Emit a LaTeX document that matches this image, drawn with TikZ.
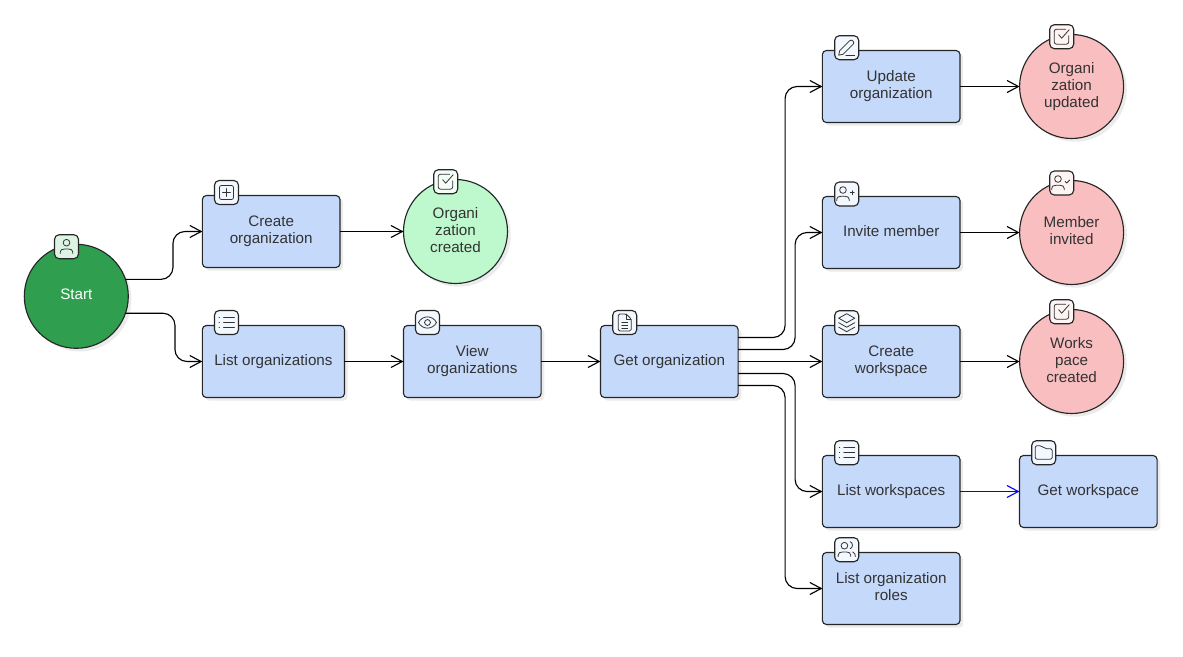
\documentclass[tikz,border=0pt]{standalone}
\usepackage{fontspec}
\setmainfont{Liberation Sans}
\usetikzlibrary{arrows.meta,shadows,calc}

\definecolor{taskblue}{HTML}{C5D9FB}
\definecolor{donered}{HTML}{F9BEC0}
\definecolor{donegreen}{HTML}{BEF8CD}
\definecolor{startgreen}{HTML}{309E4F}
\definecolor{inkgray}{HTML}{333333}
\definecolor{iconblue}{HTML}{F3F7FE}
\definecolor{iconred}{HTML}{FEF4F4}
\definecolor{icongreen}{HTML}{F4FEF7}
\definecolor{iconstart}{HTML}{DDF3E3}

\tikzset{
	softshadow/.style={drop shadow={shadow xshift=2.4pt, shadow yshift=-2.4pt, fill=black, opacity=0.08}},
	taskbox/.style={draw=black!85, line width=0.85pt, fill=taskblue, rounded corners=3pt, inner sep=0pt, outer sep=0pt, minimum width=103.2pt, minimum height=54pt, align=center, text=inkgray, text depth=2.5pt, font=\fontsize{11.4}{12.75}\selectfont, softshadow},
	endcircle/.style={circle, draw=black!85, line width=0.85pt, inner sep=0pt, outer sep=0pt, minimum size=78pt, align=center, text=inkgray, text depth=2.5pt, font=\fontsize{11.4}{12.75}\selectfont, softshadow},
	iconbox/.style={draw=black!85, line width=0.85pt, rounded corners=3.5pt, inner sep=0pt, minimum size=18pt},
	flow/.style={color=black, line width=0.85pt, rounded corners=9pt, -{Straight Barb[length=8.5pt, width=9pt, line width=0.85pt]}},
	blueflow/.style={flow, color=blue, line width=1pt},
	iconline/.style={draw=inkgray, line width=0.6pt, line cap=round, line join=round},
	pics/plussquare/.style={code={
		\draw[iconline, rounded corners=1.5pt] (-7,-7) rectangle (7,7);
		\draw[iconline] (-4,0) -- (4,0) (0,-4) -- (0,4);
	}},
	pics/checksquare/.style={code={
		\draw[iconline, rounded corners=1.8pt] (7,-1) -- (7,7.5) -- (-7.5,7.5) -- (-7.5,-7.5) -- (4,-7.5);
		\draw[iconline] (-3,-2) -- (0,1.5) -- (7.5,-7);
	}},
	pics/listlines/.style={code={
		\draw[iconline] (-3,-5) -- (8,-5) (-3,0) -- (8,0) (-3,5) -- (8,5);
		\draw[iconline] (-7.5,-5) -- (-7,-5) (-7.5,0) -- (-7,0) (-7.5,5) -- (-7,5);
	}},
	pics/filetext/.style={code={
		\draw[iconline, rounded corners=1.2pt] (1.5,-8.5) -- (-6.5,-8.5) -- (-6.5,8.5) -- (6.5,8.5) -- (6.5,-3.5) -- cycle;
		\draw[iconline] (1.5,-8.5) -- (1.5,-3.5) -- (6.5,-3.5);
		\draw[iconline] (-3,-0.5) -- (3,-0.5) (-3,2.5) -- (3,2.5) (-3,5.5) -- (3,5.5);
	}},
	pics/personicon/.style={code={
		\draw[iconline] (0,-4) circle (2.5pt);
		\draw[iconline] (-6.3,6.8) -- (-6.3,5.5) .. controls (-6.3,3.2) and (-4.5,2.3) .. (-2,2.3) -- (2,2.3) .. controls (4.5,2.3) and (6.3,3.2) .. (6.3,5.5) -- (6.3,6.8);
	}},
	pics/personplus/.style={code={
		\pic[xshift=-2.8pt] {personicon};
		\draw[iconline] (3.5,-1.3) -- (7.5,-1.3) (5.5,-3.3) -- (5.5,0.7);
	}},
	pics/personcheck/.style={code={
		\pic[xshift=-2.8pt] {personicon};
		\draw[iconline] (3.5,-1.5) -- (5,0) -- (8,-3);
	}},
	pics/twopersons/.style={code={
		\pic[xshift=-1.7pt] {personicon};
		\draw[iconline] (3.5,-8) .. controls (6.5,-7) and (6.5,-2) .. (3.5,-1);
		\draw[iconline] (6,2.3) .. controls (8,3) and (8.7,5) .. (8.7,6.8);
	}},
	pics/pencil/.style={code={
		\draw[iconline] (-8,7.5) -- (-7,3) -- (3,-7) .. controls (5,-9) and (8.5,-5.5) .. (6.5,-3.5) -- (-3.5,6.5) -- cycle;
		\draw[iconline] (-1,8) -- (8,8);
	}},
	pics/layerstack/.style={code={
		\draw[iconline] (0,-9) -- (8,-4.5) -- (0,0) -- (-8,-4.5) -- cycle;
		\draw[iconline] (-8,0) -- (0,4.5) -- (8,0);
		\draw[iconline] (-8,4.5) -- (0,9) -- (8,4.5);
	}},
	pics/folder/.style={code={
		\draw[iconline, rounded corners=1.5pt] (-8.5,-7) -- (-2,-7) -- (1,-4) -- (8.5,-4) -- (8.5,6.5) -- (-8.5,6.5) -- cycle;
	}},
	pics/eyeicon/.style={code={
		\draw[iconline] (-9,0) .. controls (-5,-7.5) and (5,-7.5) .. (9,0) .. controls (5,7.5) and (-5,7.5) .. (-9,0) -- cycle;
		\draw[iconline] (0,0) circle (2.2pt);
	}},
}

\begin{document}
\begin{tikzpicture}[x=0.75pt, y=-0.75pt]

	\useasboundingbox (0,0) rectangle (1183,657);

	\node [endcircle, fill=startgreen, text=white] (start) at (76.3,296.3) {Start};

	\node [taskbox] (createorg) at (271.2,231.5) {Create\\organization};
	\node [endcircle, fill=donegreen] (orgcreated) at (455.5,231.5) {Organi\\zation\\created};

	\node [taskbox, minimum width=106.6pt] (listorgs) at (273.4,361.5) {List organizations};
	\node [taskbox] (vieworgs) at (472.3,361.5) {View\\organizations};
	\node [taskbox] (getorg) at (669.3,361.5) {Get organization};

	\node [taskbox] (updateorg) at (891.2,86.5) {Update\\organization};
	\node [endcircle, fill=donered] (orgupdated) at (1071.6,86.5) {Organi\\zation\\updated};
	\node [taskbox] (invitemember) at (891.2,232.5) {Invite member};
	\node [endcircle, fill=donered] (memberinvited) at (1071.6,232.5) {Member\\invited};
	\node [taskbox] (createws) at (891.2,361.5) {Create\\workspace};
	\node [endcircle, fill=donered] (wscreated) at (1071.6,361.5) {Works\\pace\\created};
	\node [taskbox] (listws) at (891.2,491.5) {List workspaces};
	\node [taskbox] (getws) at (1088.3,491.5) {Get workspace};
	\node [taskbox] (listroles) at (891.2,588.5) {List organization\\roles};

	% connectors
	\draw [flow] (start.19) -- ++(47.5,0) |- (createorg.west);
	\draw [flow] (start.-19) -- ++(49.5,0) |- (listorgs.west);
	\draw [flow] (createorg.east) -- (orgcreated.west);
	\draw [flow] (listorgs.east) -- (vieworgs.west);
	\draw [flow] (vieworgs.east) -- (getorg.west);

	\draw [flow] ($(getorg.east)+(0,-24)$) -- ++(47,0) |- (updateorg.west);
	\draw [flow] ($(getorg.east)+(0,-12)$) -- ++(57,0) |- (invitemember.west);
	\draw [flow] (getorg.east) -- (createws.west);
	\draw [flow] ($(getorg.east)+(0,12)$) -- ++(57,0) |- (listws.west);
	\draw [flow] ($(getorg.east)+(0,24)$) -- ++(47,0) |- (listroles.west);

	\draw [flow] (updateorg.east) -- (orgupdated.west);
	\draw [flow] (invitemember.east) -- (memberinvited.west);
	\draw [flow] (createws.east) -- (wscreated.west);
	\draw [blueflow] (listws.east) -- (getws.west);

	% icons
	\node [iconbox, fill=iconstart] (starticon) at (66.5,246.7) {};
	\pic at (starticon) {personicon};
	\node [iconbox, fill=iconblue] (createorgicon) at (226.5,192.5) {};
	\pic at (createorgicon) {plussquare};
	\node [iconbox, fill=icongreen] (orgcreatedicon) at (445.7,181.7) {};
	\pic at (orgcreatedicon) {checksquare};
	\node [iconbox, fill=iconblue] (listorgsicon) at (226.5,322.5) {};
	\pic at (listorgsicon) {listlines};
	\node [iconbox, fill=iconblue] (vieworgsicon) at (427.5,322.5) {};
	\pic at (vieworgsicon) {eyeicon};
	\node [iconbox, fill=iconblue] (getorgicon) at (624.7,322.5) {};
	\pic at (getorgicon) {filetext};

	\node [iconbox, fill=iconblue] (updateorgicon) at (846.7,47.7) {};
	\pic at (updateorgicon) {pencil};
	\node [iconbox, fill=iconred] (orgupdatedicon) at (1061.7,36.7) {};
	\pic at (orgupdatedicon) {checksquare};
	\node [iconbox, fill=iconblue] (invitemembericon) at (846.7,194) {};
	\pic at (invitemembericon) {personplus};
	\node [iconbox, fill=iconred] (memberinvitedicon) at (1061.7,183) {};
	\pic at (memberinvitedicon) {personcheck};
	\node [iconbox, fill=iconblue] (createwsicon) at (846.7,322.7) {};
	\pic at (createwsicon) {layerstack};
	\node [iconbox, fill=iconred] (wscreatedicon) at (1061.7,311.7) {};
	\pic at (wscreatedicon) {checksquare};
	\node [iconbox, fill=iconblue] (listwsicon) at (846.7,452.7) {};
	\pic at (listwsicon) {listlines};
	\node [iconbox, fill=iconblue] (getwsicon) at (1043.7,452.7) {};
	\pic at (getwsicon) {folder};
	\node [iconbox, fill=iconblue] (listrolesicon) at (846.7,549.7) {};
	\pic at (listrolesicon) {twopersons};

\end{tikzpicture}
\end{document}
